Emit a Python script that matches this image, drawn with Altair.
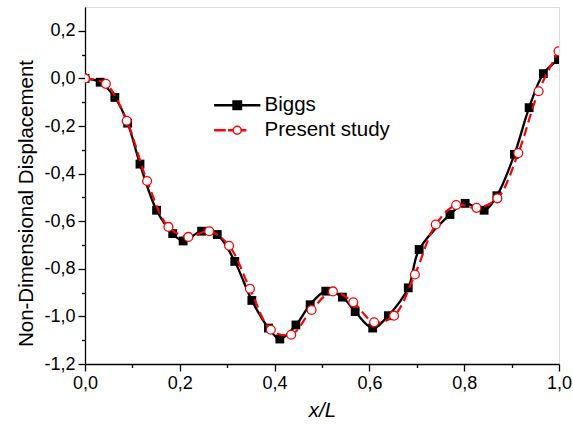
import altair as alt
import pandas as pd

# ---- data ----
series_names = ["Biggs", "Present study"]

biggs_x = [0.0, 0.032, 0.063, 0.090, 0.116, 0.151, 0.185, 0.207, 0.246, 0.279,
           0.316, 0.352, 0.387, 0.411, 0.445, 0.475, 0.508, 0.543, 0.570, 0.607,
           0.640, 0.682, 0.705, 0.770, 0.802, 0.842, 0.869, 0.906, 0.937, 0.967, 0.999]
biggs_y = [0.0, -0.016, -0.080, -0.188, -0.360, -0.554, -0.652, -0.683, -0.642, -0.656,
           -0.769, -0.933, -1.049, -1.095, -1.036, -0.951, -0.894, -0.919, -0.980, -1.049,
           -0.997, -0.880, -0.719, -0.572, -0.525, -0.554, -0.493, -0.319, -0.123, 0.020, 0.079]

present_x = [0.0, 0.044, 0.088, 0.131, 0.176, 0.218, 0.262, 0.304, 0.348, 0.392,
             0.435, 0.478, 0.523, 0.566, 0.610, 0.652, 0.696, 0.740, 0.783, 0.826,
             0.870, 0.914, 0.957, 0.999]
present_y = [0.0, -0.023, -0.178, -0.431, -0.624, -0.666, -0.642, -0.703, -0.884, -1.056,
             -1.077, -0.973, -0.895, -0.941, -1.025, -0.997, -0.824, -0.614, -0.532, -0.544,
             -0.504, -0.314, -0.054, 0.114]

x_ticks = [round(i * 0.1, 1) for i in range(0, 11)]
y_ticks = [round(-1.2 + i * 0.1, 1) for i in range(0, 15)]

df_b = pd.DataFrame({"x": biggs_x, "y": biggs_y, "series": series_names[0]})
df_p = pd.DataFrame({"x": present_x, "y": present_y, "series": series_names[1]})
df_leg = pd.DataFrame({"x": [None, None], "y": [None, None], "series": series_names})

FONT = "Liberation Sans"
RED = "#ff0000"

minor_test = "round(datum.value*10) % 2 != 0"
x_label = "round(datum.value*10) % 2 == 0 ? replace(format(datum.value, '.1f'), '.', ',') : ''"
y_label = ("round(datum.value*10) % 2 == 0 ? (datum.value < -0.001 ? '-' : '') + "
           "replace(format(abs(datum.value), '.1f'), '.', ',') : ''")

common_axis = dict(
    grid=False, domainColor="black", domainWidth=1.3, tickColor="black", tickWidth=1.3,
    tickSize={"condition": {"test": minor_test, "value": 3.5}, "value": 7},
    labelFont=FONT, labelFontSize=18, labelColor="black", labelFlush=False,
    labelOverlap=False, titleFont=FONT, titleFontSize=20.5, titleColor="black",
    titleFontWeight="normal",
)

X = alt.X("x:Q", scale=alt.Scale(domain=[0, 1], nice=False, zero=False),
          axis=alt.Axis(values=x_ticks, labelExpr=x_label, labelPadding=3,
                        titlePadding=8, titleFontStyle="italic", **common_axis),
          title="x/L")
Y = alt.Y("y:Q", scale=alt.Scale(domain=[-1.2, 0.3], nice=False, zero=False),
          axis=alt.Axis(values=y_ticks, labelExpr=y_label, labelPadding=3,
                        titlePadding=7, titleY=196, **common_axis),
          title="Non-Dimensional Displacement")

line_b = alt.Chart(df_b).mark_line(interpolate="catmull-rom", color="black",
                                   strokeWidth=2.3, clip=True).encode(x=X, y=Y)
pts_b = alt.Chart(df_b).mark_point(shape="square", filled=True, color="black",
                                   size=78, opacity=1, clip=True).encode(x=X, y=Y)
line_p = alt.Chart(df_p).mark_line(interpolate="catmull-rom", color=RED, strokeWidth=2.2,
                                   strokeDash=[9, 5], clip=True).encode(x=X, y=Y)
pts_p = alt.Chart(df_p).mark_point(shape="circle", filled=False, fill="white", stroke=RED,
                                   strokeWidth=1.3, size=78, opacity=1,
                                   clip=True).encode(x=X, y=Y)

# legend symbols: line + marker glyphs as custom shapes
path_b = "M-3.2,-0.06H3.2V0.06H-3.2Z M-0.6,-0.6H0.6V0.6H-0.6Z"
path_p = ("M-3.2,-0.06H-1.75V0.06H-3.2Z M-1.2,-0.06H-0.64V0.06H-1.2Z "
          "M0.57,-0.06H1.2V0.06H0.57Z "
          "M0.57,0A0.57,0.57 0 1,1 -0.57,0A0.57,0.57 0 1,1 0.57,0Z")

legend_layer = alt.Chart(df_leg).mark_point(filled=True, size=196, strokeWidth=1.5,
                                            opacity=1).encode(
    x=X, y=Y,
    shape=alt.Shape("series:N", scale=alt.Scale(domain=series_names, range=[path_b, path_p]),
                    legend=alt.Legend(title=None, orient="none", legendX=142, legendY=88,
                                      symbolSize=196, symbolStrokeWidth=1.5,
                                      symbolOpacity=1, labelOffset=17,
                                      labelFont=FONT, labelFontSize=20.5, labelColor="black",
                                      rowPadding=4, padding=0)),
    fill=alt.Fill("series:N", scale=alt.Scale(domain=series_names, range=["black", "white"])),
    stroke=alt.Stroke("series:N", scale=alt.Scale(domain=series_names, range=["black", RED])),
)

chart = alt.layer(line_b, pts_b, line_p, pts_p, legend_layer).properties(
    width=474, height=357,
    autosize=alt.AutoSizeParams(type="none"),
    padding={"left": 85, "top": 7, "right": 14, "bottom": 64},
).configure_view(stroke="black", strokeWidth=1.3).configure(background="white")

chart.save("out.html", embed_options={"renderer": "svg", "actions": False})
